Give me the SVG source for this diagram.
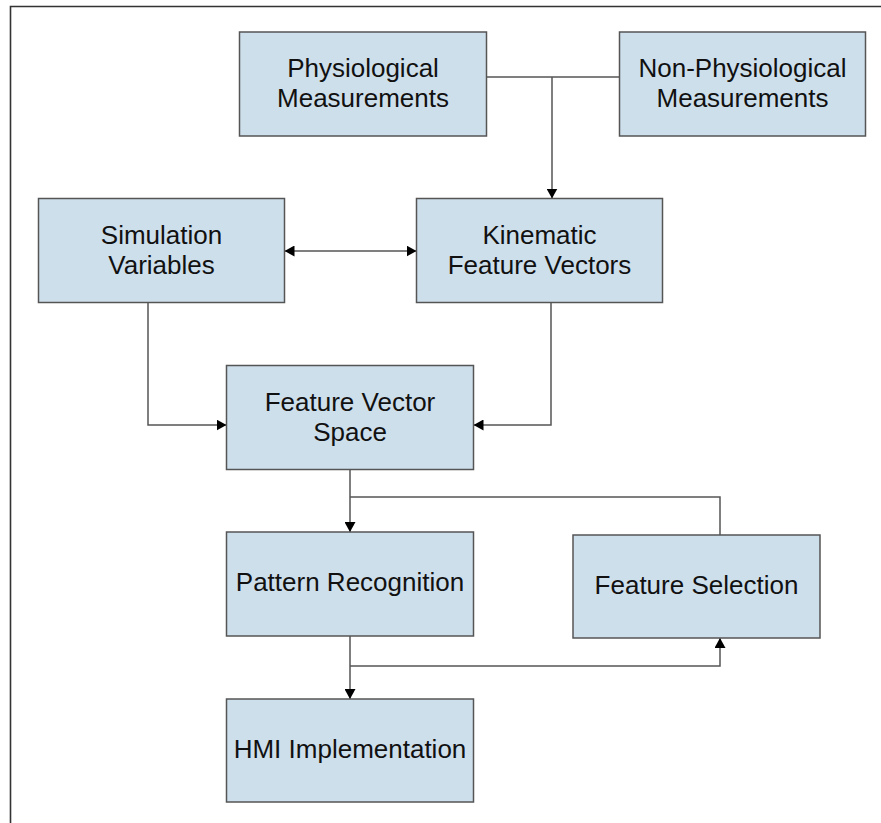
<svg xmlns="http://www.w3.org/2000/svg" width="881" height="823" viewBox="0 0 881 823">
  <style>
    .box { fill: #cedfec; stroke: #555; stroke-width: 1.5; }
    .lbl { font-family: "Liberation Sans", Arial, sans-serif; font-size: 26px; fill: #111; text-anchor: middle; }
    .wire { fill: none; stroke: #555; stroke-width: 1.5; }
    .frame { fill: none; stroke: #333; stroke-width: 1.6; }
  </style>
  <defs>
    <marker id="head" markerUnits="userSpaceOnUse" markerWidth="10" markerHeight="11" refX="10" refY="5.5" orient="auto-start-reverse">
      <path d="M0,0 L10,5.5 L0,11 Z" fill="#000"/>
    </marker>
  </defs>

  <rect width="881" height="823" fill="#fff"/>
  <path class="frame" d="M10.5,823 V6.5 H881"/>

  <!-- connectors -->
  <g id="connectors">
    <path class="wire" d="M486.5,77 H619.5"/>
    <path class="wire" d="M552,77 V198.5" marker-end="url(#head)"/>
    <path class="wire" d="M284.5,251 H416.5" marker-start="url(#head)" marker-end="url(#head)"/>
    <path class="wire" d="M148,302.5 V425 H226.5" marker-end="url(#head)"/>
    <path class="wire" d="M551,302.5 V425 H473.5" marker-end="url(#head)"/>
    <path class="wire" d="M350,469.5 V532" marker-end="url(#head)"/>
    <path class="wire" d="M350,497 H720 V535"/>
    <path class="wire" d="M350,636 V699" marker-end="url(#head)"/>
    <path class="wire" d="M350,666 H720 V638" marker-end="url(#head)"/>
  </g>

  <!-- nodes -->
  <g id="physiological">
    <rect class="box" x="239.5" y="32" width="247" height="104"/>
    <text class="lbl" x="363" y="77">Physiological</text>
    <text class="lbl" x="363" y="107">Measurements</text>
  </g>
  <g id="non-physiological">
    <rect class="box" x="619.5" y="32" width="246" height="104"/>
    <text class="lbl" x="742.5" y="77">Non-Physiological</text>
    <text class="lbl" x="742.5" y="107">Measurements</text>
  </g>
  <g id="simulation-variables">
    <rect class="box" x="38.5" y="198.5" width="246" height="104"/>
    <text class="lbl" x="161.5" y="243.5">Simulation</text>
    <text class="lbl" x="161.5" y="273.5">Variables</text>
  </g>
  <g id="kinematic-feature-vectors">
    <rect class="box" x="416.5" y="198.5" width="246" height="104"/>
    <text class="lbl" x="539.5" y="243.5">Kinematic</text>
    <text class="lbl" x="539.5" y="273.5">Feature Vectors</text>
  </g>
  <g id="feature-vector-space">
    <rect class="box" x="226.5" y="365.5" width="247" height="104"/>
    <text class="lbl" x="350" y="410.5">Feature Vector</text>
    <text class="lbl" x="350" y="440.5">Space</text>
  </g>
  <g id="pattern-recognition">
    <rect class="box" x="226.5" y="532" width="247" height="104"/>
    <text class="lbl" x="350" y="591">Pattern Recognition</text>
  </g>
  <g id="feature-selection">
    <rect class="box" x="573" y="535" width="247" height="103"/>
    <text class="lbl" x="696.5" y="593.5">Feature Selection</text>
  </g>
  <g id="hmi-implementation">
    <rect class="box" x="226.5" y="699" width="247" height="103"/>
    <text class="lbl" x="350" y="757.5">HMI Implementation</text>
  </g>
</svg>
